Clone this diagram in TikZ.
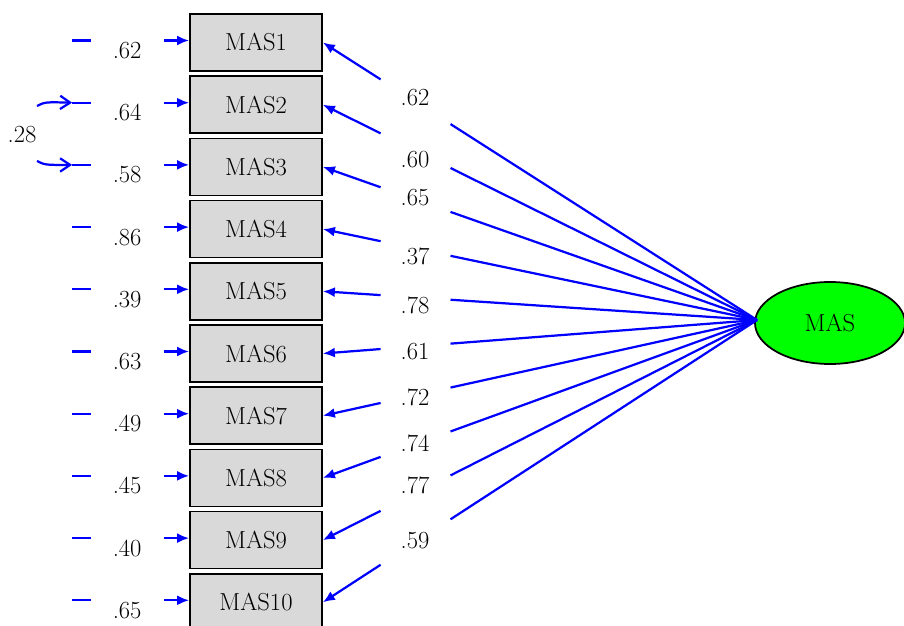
\documentclass[tikz,border=0pt]{standalone}
\usepackage{fontspec}
\usetikzlibrary{arrows.meta,calc,shapes.geometric}
\begin{document}
\begin{tikzpicture}[x=0.03cm, y=-0.03cm, >={Latex[length=0.36cm,width=0.3cm]},
  font=\fontsize{21}{24}\selectfont,
  obs/.style={draw, line width=1.5pt, fill=gray!30, minimum width=3.96cm, minimum height=1.71cm},
  lat/.style={draw, ellipse, line width=1.5pt, fill=green, minimum width=4.5cm, minimum height=2.46cm},
  link/.style={blue, line width=1.9pt}]
\useasboundingbox (0,0) rectangle (904,626);
\node [lat] (mas) at (830,323) {MAS};
\coordinate (hub) at (757,320);
\foreach \i/\y/\e/\l/\ly in {1/42.5/.62/.62/98, 2/104.7/.64/.60/160, 3/166.9/.58/.65/198,
  4/229.1/.86/.37/256, 5/291.3/.39/.78/305, 6/353.5/.63/.61/352, 7/415.7/.49/.72/397,
  8/477.9/.45/.74/443, 9/540.1/.40/.77/485, 10/602.3/.65/.59/541} {
  \node [obs] (mas\i) at (256,\y) {MAS\i};
  \coordinate (e\i) at ($(mas\i.west)+(-117,-2)$);
  \draw [link] (e\i) -- +(19,0);
  \node at ($(mas\i.west)+(-62,8)$) {\e};
  \draw [link,->] ($(mas\i.west)+(-25,-2)$) -- ($(mas\i.west)+(0,-2)$);
  \draw [link] (hub) -- ($(mas\i.east)!0.294!(hub)$);
  \draw [link,->] ($(mas\i.east)!0.133!(hub)$) -- (mas\i.east);
  \node at (415,\ly) {\l};
}
% correlated errors
\draw [link, -{Straight Barb[length=0.3cm,width=0.4cm]}] (37,106) .. controls (45,102) .. (e2);
\draw [link, -{Straight Barb[length=0.3cm,width=0.4cm]}] (37,161) .. controls (45,165) .. (e3);
\node at (22,135) {.28};
\end{tikzpicture}
\end{document}
